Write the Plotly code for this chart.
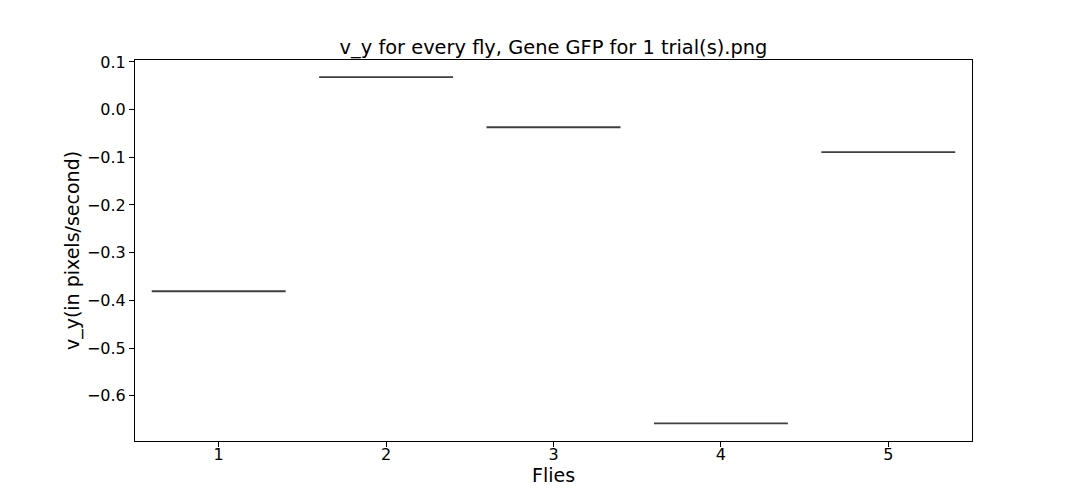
import plotly.graph_objects as go

# one v_y value per fly (single trial, so each box collapses to a line)
flies = [1, 2, 3, 4, 5]
v_y = [-0.381, 0.068, -0.037, -0.658, -0.089]

title_text = "v_y for every fly, Gene GFP for 1 trial(s).png"
font_family = "DejaVu Sans"

fig = go.Figure()
for fly, val in zip(flies, v_y):
    fig.add_trace(go.Box(x=[fly], y=[val], width=0.8,
                         line=dict(color="#3f3f3f", width=1.8),
                         fillcolor="rgba(0,0,0,0)", boxpoints=False,
                         showlegend=False))

# the page body adds 8px, so the margins are shifted by that much
fig.update_layout(
    width=1080, height=504,
    paper_bgcolor="white", plot_bgcolor="white",
    margin=dict(l=127, r=116, t=52, b=71),
    font=dict(family=font_family, size=16, color="black"),
    title=dict(text=title_text, x=0.5, xref="paper", xanchor="center",
               y=1 - 39 / 504, yref="container", yanchor="middle",
               font=dict(size=19.4, color="black")),
)

fig.update_xaxes(range=[0.5, 5.5], tickmode="array", tickvals=flies,
                 ticktext=[str(f) for f in flies],
                 showline=True, linecolor="black", linewidth=1, mirror=True,
                 ticks="outside", ticklen=5, tickcolor="black",
                 ticklabelstandoff=-6,
                 showgrid=False, zeroline=False,
                 title=dict(text="Flies", standoff=0))
fig.update_yaxes(range=[-0.695, 0.104], dtick=0.1, tick0=0, tickformat=".1f",
                 showline=True, linecolor="black", linewidth=1, mirror=True,
                 ticks="outside", ticklen=5, tickcolor="black",
                 showgrid=False, zeroline=False,
                 title=dict(text="v_y(in pixels/second)", standoff=2))

fig.write_html("out.html")
